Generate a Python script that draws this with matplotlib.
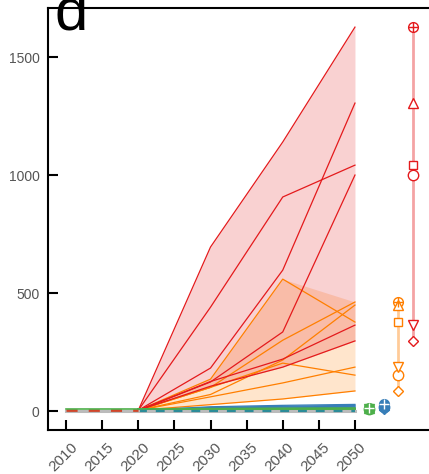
import numpy as np
import matplotlib
matplotlib.use('Agg')
import matplotlib.pyplot as plt
import matplotlib.transforms as mtransforms

plt.rcParams['font.family'] = ['Liberation Sans', 'DejaVu Sans']

# historical part
hist_years = [2010, 2015, 2020]
hist_green = [10, 10, 10]
hist_red = [5, 5, 5]
hist_zero = [0, 0, 0]

# scenario part
years = [2020, 2030, 2040, 2050]

# marker order of scenarios: circle-plus, up, square, circle, down, diamond
red_lines = [[3, 695, 1140, 1627],
             [3, 182, 597, 1305],
             [3, 440, 907, 1042],
             [3, 123, 335, 1000],
             [3, 125, 220, 364],
             [3, 105, 186, 297]]

orange_lines = [[3, 100, 300, 462],
                [3, 70, 216, 449],
                [3, 135, 559, 377],
                [3, 100, 203, 152],
                [3, 60, 119, 186],
                [3, 27, 51, 85]]

blue_lines = [[3, 18, 24, 28],
              [3, 15, 20, 24],
              [3, 12, 17, 20],
              [3, 10, 13, 16],
              [3, 7, 9, 12],
              [3, 4, 6, 7]]

green_lines = [[10, 11, 12, 13],
               [10, 10, 11, 12],
               [10, 9, 10, 10],
               [10, 8, 9, 9],
               [10, 8, 8, 8],
               [10, 7, 7, 7]]

zero_line = [0, 0, 0, 0]

red = '#e41a1c'
orange = '#ff7f00'
blue = '#377eb8'
green = '#4daf4a'
teal = '#2c8c99'
grey = '#bbbbbb'

fig = plt.figure(figsize=(4.29, 4.74), dpi=100)
ax = fig.add_axes([48/429, 1 - 430/474, 1 - 48/429, 422/474])

def group(lines, color, fill_alpha, xm, filled=False):
    arr = np.array(lines, dtype=float)
    ax.fill_between(years, arr.min(axis=0), arr.max(axis=0), color=color,
                    alpha=fill_alpha, lw=0, zorder=1)
    for row in arr:
        ax.plot(years, row, color=color, lw=0.9, zorder=3)
    ends = arr[:, -1]
    ax.plot([xm, xm], [ends.min(), ends.max()], color=color, alpha=0.4,
            lw=2.0, zorder=2, solid_capstyle='butt')
    mk = ['o', '^', 's', 'o', 'v', 'D']
    sz = [7, 7, 6, 7.5, 7, 5]
    face = color if filled else 'white'
    for i, v in enumerate(ends):
        ax.plot(xm, v, marker=mk[i], ms=sz[i], mfc=face, mec=color,
                mew=1.0, ls='none', zorder=4)
        if i == 0:
            ax.plot(xm, v, marker='+', ms=7, mec='white' if filled else color,
                    mew=1.0, ls='none', zorder=5)

group(orange_lines, orange, 0.2, 2056)
group(red_lines, red, 0.2, 2058)
group(blue_lines, blue, 0.5, 2054, filled=True)
group(green_lines, green, 0.4, 2052, filled=True)

# zero / historical lines
ax.plot(years, zero_line, color=grey, lw=2.2, zorder=3)
ax.plot(years, zero_line, color=teal, lw=1.6, dashes=(4, 4), zorder=3)
ax.plot(hist_years, hist_zero, color=grey, lw=2.2, zorder=3)
ax.plot(hist_years, hist_red, color='#d0452a', lw=2.0, dashes=(4, 4), zorder=3)
ax.plot(hist_years, hist_green, color=green, lw=1.2, zorder=3)

ax.set_xlim(2007.5, 2060.25)
ax.set_ylim(-80.5, 1708)

ax.set_xticks(range(2010, 2051, 5))
ax.set_yticks([0, 500, 1000, 1500])
ax.tick_params(direction='in', length=7, width=1.5, colors='black',
               labelcolor='#555555', labelsize=10)
ax.tick_params(axis='y', pad=6)
ax.tick_params(axis='x', labelsize=11, pad=7)
shift = mtransforms.ScaledTranslation(4/100, 0, fig.dpi_scale_trans)
for lab in ax.get_xticklabels():
    lab.set_rotation(45)
    lab.set_ha('right')
    lab.set_va('top')
    lab.set_rotation_mode('anchor')
    lab.set_transform(lab.get_transform() + shift)

for s in ['left', 'top', 'bottom']:
    ax.spines[s].set_linewidth(1.5)
ax.spines['right'].set_visible(False)

fig.text(55/429, 1 - 29/474, 'd', fontsize=43, va='baseline', ha='left')

fig.savefig('out.png', dpi=100)
